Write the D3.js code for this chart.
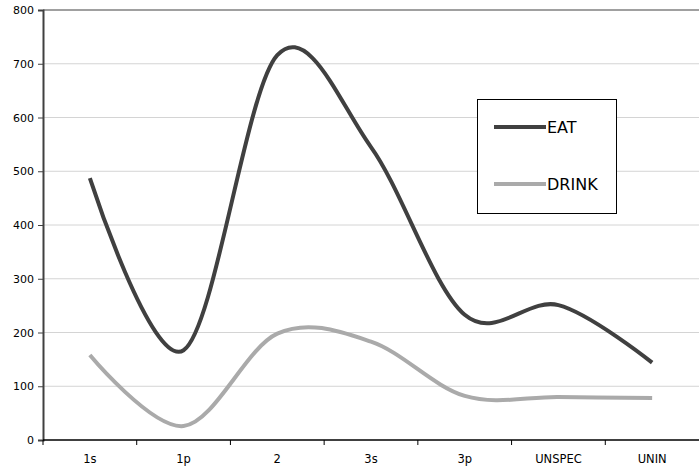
<!DOCTYPE html>
<html>
<head>
<meta charset="utf-8">
<script src="https://cdn.jsdelivr.net/npm/d3@7"></script>
<style>
  body { margin: 0; background: #fff; }
  svg { display: block; font-family: "DejaVu Sans", Verdana, sans-serif; }
</style>
</head>
<body>
<svg></svg>
<script>
// categories + values
const categories = ["1s", "1p", "2", "3s", "3p", "UNSPEC", "UNIN"];
const eat = [487, 167, 716, 545, 233, 251, 144];
const drink = [158, 26, 198, 183, 82, 80, 78];
const yTicks = [0, 100, 200, 300, 400, 500, 600, 700, 800];

const W = 700, H = 471;
const mLeft = 43, mRight = 699, mTop = 10, mBottom = 440;

const svg = d3.select("svg").attr("width", W).attr("height", H);

const x = d3.scaleBand().domain(categories).range([mLeft, mRight]);
const y = d3.scaleLinear().domain([0, 800]).range([mBottom, mTop]);

// gridlines
svg.append("g")
  .selectAll("line")
  .data(yTicks.filter(d => d > 0))
  .enter()
  .append("line")
  .attr("x1", mLeft).attr("x2", mRight)
  .attr("y1", d => y(d)).attr("y2", d => y(d))
  .attr("stroke", d => d === 800 ? "#a0a0a0" : "#d4d4d4")
  .attr("stroke-width", d => d === 800 ? 2 : 1);

// y axis
const yAxis = svg.append("g")
  .attr("transform", `translate(${mLeft},0)`)
  .call(d3.axisLeft(y).tickValues(yTicks).tickSize(5).tickPadding(4));
yAxis.select(".domain").attr("stroke", "#404040").attr("stroke-width", 2);
yAxis.selectAll(".tick line").attr("stroke", "#404040");
yAxis.selectAll("text").style("font-size", "11px").attr("fill", "#000")
  .attr("font-family", "DejaVu Sans");

// x axis
const xTickPos = categories.map(c => x(c));
const xAxis = svg.append("g").attr("transform", `translate(0,${mBottom})`);
xAxis.append("line")
  .attr("x1", mLeft).attr("x2", mRight)
  .attr("stroke", "#000").attr("stroke-width", 1.5);
xAxis.selectAll("line.tk")
  .data(xTickPos)
  .enter()
  .append("line")
  .attr("class", "tk")
  .attr("x1", d => d).attr("x2", d => d)
  .attr("y1", 0).attr("y2", 5)
  .attr("stroke", "#000");
xAxis.selectAll("text")
  .data(categories)
  .enter()
  .append("text")
  .text(d => d)
  .attr("x", d => x(d) + x.bandwidth() / 2)
  .attr("y", 23)
  .attr("text-anchor", "middle")
  .style("font-size", "11.5px");

// lines
const line = d3.line()
  .x((d, i) => x(categories[i]) + x.bandwidth() / 2)
  .y(d => y(d))
  .curve(d3.curveCatmullRom.alpha(0));

svg.append("path")
  .datum(drink)
  .attr("d", line)
  .attr("fill", "none")
  .attr("stroke", "#aaaaaa")
  .attr("stroke-width", 4);

svg.append("path")
  .datum(eat)
  .attr("d", line)
  .attr("fill", "none")
  .attr("stroke", "#404040")
  .attr("stroke-width", 4);

// legend
const legend = svg.append("g");
legend.append("rect")
  .attr("x", 477.5).attr("y", 99.5)
  .attr("width", 139).attr("height", 114)
  .attr("fill", "#fff").attr("stroke", "#000");
const items = [["EAT", "#404040", 127], ["DRINK", "#aaaaaa", 184]];
items.forEach(([name, col, ly]) => {
  legend.append("line")
    .attr("x1", 494).attr("x2", 546)
    .attr("y1", ly).attr("y2", ly)
    .attr("stroke", col).attr("stroke-width", 4);
  legend.append("text")
    .text(name)
    .attr("x", 547).attr("y", ly + 6)
    .style("font-size", "16px");
});
</script>
</body>
</html>
